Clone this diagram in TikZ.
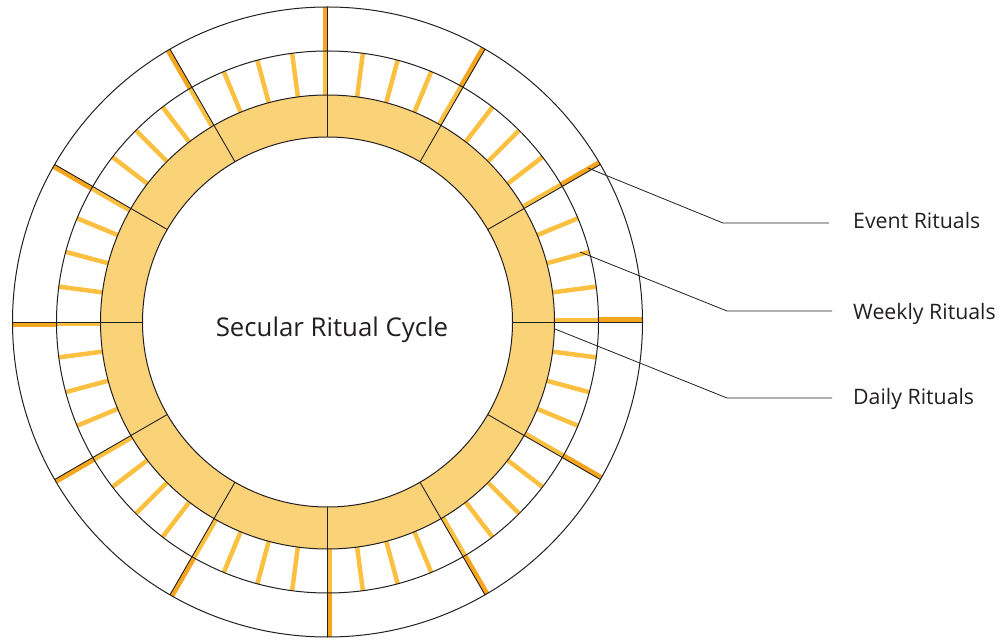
\documentclass[tikz,border=0pt]{standalone}
\usepackage{fontspec}
\setmainfont{Open Sans}
\usetikzlibrary{calc}
\definecolor{ringfill}{RGB}{250,210,120}
\definecolor{tickorange}{RGB}{251,192,64}
\definecolor{eventorange}{RGB}{245,166,30}
\definecolor{ink}{RGB}{35,31,32}
\tikzset{
  ringline/.style={draw=ink, line width=1pt},
  spoke/.style={draw=ink, line width=0.9pt},
  tickmark/.style={draw=tickorange, line width=4.5pt},
  eventmark/.style={draw=eventorange, line width=5pt},
  leader/.style={draw=ink, line width=0.8pt},
  label/.style={font=\fontsize{21.3}{25}\selectfont, text=ink, inner sep=0pt, anchor=base west},
}
\begin{document}
\begin{tikzpicture}[x=1pt,y=1pt]
\useasboundingbox (0,0) rectangle (1003,640);
\coordinate (c) at (327.5,318);

% daily ring band
\fill[ringfill, even odd rule] (c) circle (227) (c) circle (185);

% weekly ticks and the segment markers in the outer rings
\foreach \b in {0,30,...,330} {
  \foreach \d in {7.5,15,22.5}
    \draw[tickmark] ($(c)+(\b+\d:227)$) -- ($(c)+(\b+\d:271)$);
  \draw[tickmark] ($(c)+(\b:227)+(\b+90:2.2)$) -- ($(c)+(\b:271)+(\b+90:2.2)$);
  \draw[eventmark] ($(c)+(\b:271)+(\b+90:2.2)$) -- ($(c)+(\b:315)+(\b+90:2.2)$);
}

% month spokes
\foreach \b in {0,30,...,330}
  \draw[spoke] ($(c)+(\b:185)$) -- ($(c)+(\b:315)$);

% ring outlines
\foreach \r in {185,227,271,315}
  \draw[ringline] (c) circle (\r);

% centre title
\node[font=\fontsize{25.8}{31}\selectfont, text=ink, inner sep=0pt, anchor=base] (title) at (332,303) {Secular Ritual Cycle};

% legend
\node[label] (evlbl) at (853,411) {Event Rituals};
\node[label] (wklbl) at (853,320) {Weekly Rituals};
\node[label] (dylbl) at (853,235) {Daily Rituals};

\coordinate (evpt) at (588,472);
\coordinate (evbend) at (723,417);
\coordinate (evend) at (829,417);
\coordinate (wkpt) at (580,388);
\coordinate (wkbend) at (727,329);
\coordinate (wkend) at (832,329);
\coordinate (dypt) at (555,311);
\coordinate (dybend) at (727,242);
\coordinate (dyend) at (832,242);

\draw[leader] (evpt) -- (evbend) -- (evend);
\draw[leader] (wkpt) -- (wkbend) -- (wkend);
\draw[leader] (dypt) -- (dybend) -- (dyend);
\end{tikzpicture}
\end{document}
